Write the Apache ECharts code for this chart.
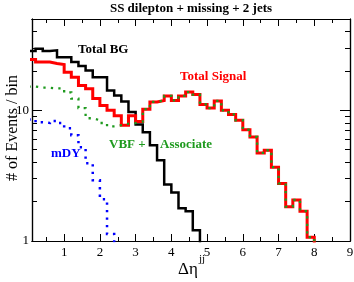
<!DOCTYPE html>
<html><head><meta charset="utf-8">
<script src="https://cdn.jsdelivr.net/npm/echarts@6/dist/echarts.min.js"></script>
<style>html,body{margin:0;padding:0;background:#fff}#c{width:354px;height:282px}</style>
</head><body><div id="c"></div>
<script>
// bin edges (width 0.2)
const binEdges = [0.0,0.2,0.4,0.6,0.8,1.0,1.2,1.4,1.6,1.8,2.0,2.2,2.4,2.6,2.8,3.0,3.2,3.4,3.6,3.8,4.0,4.2,4.4,4.6,4.8,5.0,5.2,5.4,5.6,5.8,6.0,6.2,6.4,6.6,6.8,7.0,7.2,7.4,7.6,7.8,8.0];
const totalBG = [28.4,29.6,28.4,28.8,25.5,25.5,23.4,21.8,20.2,17.9,17.9,14.2,13.0,11.7,9.7,7.8,6.8,5.4,4.15,2.71,2.35,1.78,1.69,1.21];
const totalSignal = [24.5,23.4,23.4,22.8,22.4,19.6,17.9,15.5,14.6,12.3,10.9,10.0,9.1,7.7,9.1,8.2,10.2,11.6,11.9,12.9,11.9,12.9,13.8,13.2,11.1,10.4,11.8,10.0,9.3,8.4,7.1,6.25,4.72,4.95,3.67,2.76,1.83,2.06,1.69,1.07];
const vbfAssociate = [15.2,14.9,14.9,14.7,14.7,13.7,12.3,10.4,8.7,8.4,8.0,7.55,7.7,7.9,8.0,8.2,10.2,11.6,11.9,12.9,11.9,12.9,13.8,13.2,11.1,10.4,11.8,10.0,9.3,8.4,7.1,6.25,4.72,4.95,3.67,2.76,1.83,2.06,1.69,1.07];
const mDY = [8.5,8.1,8.0,8.3,8.0,7.3,6.45,5.22,3.93,2.92,2.09,1.13];
const xTicks = [1,2,3,4,5,6,7,8,9];
const xMinorTicks = [0.5,1.5,2.5,3.5,4.5,5.5,6.5,7.5,8.5];
const yTicks = [1,10];
const yMinorTicks = [2,3,4,5,6,7,8,9,20,30,40,50];
const FLOOR = 0.5;

function steps(vals){
  const pts = vals.map((v,i)=>[binEdges[i], v]);
  pts.push([binEdges[vals.length], FLOOR]);
  return pts;
}
const SERIF = 'Liberation Serif, Times New Roman, serif';
const chart = echarts.init(document.getElementById('c'), null, {renderer:'canvas'});
function xAx(pos, vals, len, labels){
  return {type:'value', min:0.1, max:9, position:pos,
    axisLine:{show:true, lineStyle:{color:'#000', width:1.2}},
    axisTick:{show:true, inside:true, length:len, customValues:vals, lineStyle:{color:'#000', width:1}},
    axisLabel:{show:labels, customValues:vals, color:'#000', fontFamily:SERIF, fontSize:13, margin:5},
    splitLine:{show:false}};
}
function yAx(pos, vals, len, labels){
  return {type:'log', logBase:10, min:1, max:50, position:pos,
    axisLine:{show:true, lineStyle:{color:'#000', width:1.2}},
    axisTick:{show:true, inside:true, length:len, customValues:vals, lineStyle:{color:'#000', width:1}},
    axisLabel:{show:labels, customValues:vals, color:'#000', fontFamily:SERIF, fontSize:13, margin:3},
    splitLine:{show:false}, minorTick:{show:false}};
}
function line(data, color, width, dotted, z){
  return {type:'line', step:'end', data:data, symbol:'none', showSymbol:false, clip:true, z:z,
    xAxisIndex:0, yAxisIndex:0, animation:false, silent:true,
    lineStyle:{color:color, width:width, type: dotted ? [2.3,5.2] : 'solid', cap:'butt', join:'miter'}};
}
chart.setOption({
  animation:false,
  grid:{left:32, right:4, top:19, bottom:41, containLabel:false, outerBoundsMode:'none'},
  xAxis:[xAx('bottom', xTicks, 7, true), xAx('bottom', xMinorTicks, 4, false), xAx('top', xTicks, 7, false), xAx('top', xMinorTicks, 4, false)],
  yAxis:[yAx('left', yTicks, 10, true), yAx('left', yMinorTicks, 5, false), yAx('right', yTicks, 10, false), yAx('right', yMinorTicks, 5, false)],
  series:[
    line(steps(totalBG), '#000000', 2.5, false, 2),
    line(steps(totalSignal), '#ff0000', 3, false, 3),
    line(steps(vbfAssociate), '#1e9a1e', 2.3, true, 4),
    line(steps(mDY), '#0000ff', 2.5, true, 5)
  ],
  graphic:[
    {type:'text', x:191, y:8.5, style:{text:'SS dilepton + missing + 2 jets', font:'bold 13px '+SERIF, fill:'#000', textAlign:'center', textVerticalAlign:'middle'}},
    {type:'text', x:78, y:49.5, style:{text:'Total BG', font:'bold 13px '+SERIF, fill:'#000', textAlign:'left', textVerticalAlign:'middle'}},
    {type:'text', x:180, y:77, style:{text:'Total Signal', font:'bold 13px '+SERIF, fill:'#ff0000', textAlign:'left', textVerticalAlign:'middle'}},
    {type:'text', x:109, y:145, style:{text:'VBF +', font:'bold 13px '+SERIF, fill:'#1e9a1e', textAlign:'left', textVerticalAlign:'middle'}},
    {type:'text', x:160, y:145, style:{text:'Associate', font:'bold 13px '+SERIF, fill:'#1e9a1e', textAlign:'left', textVerticalAlign:'middle'}},
    {type:'text', x:51, y:153.5, style:{text:'mDY', font:'bold 13px '+SERIF, fill:'#0000ff', textAlign:'left', textVerticalAlign:'middle'}},
    {type:'text', x:13, y:128, rotation:Math.PI/2, style:{text:'# of Events / bin', font:'16px '+SERIF, fill:'#000', textAlign:'center', textVerticalAlign:'middle'}},
    {type:'text', x:178, y:270, style:{text:'\u0394\u03b7', font:'17px '+SERIF, fill:'#000', textAlign:'left', textVerticalAlign:'middle'}},
    {type:'text', x:199, y:259, style:{text:'jj', font:'11px '+SERIF, fill:'#000', textAlign:'left', textVerticalAlign:'middle'}}
  ]
});
</script></body></html>
